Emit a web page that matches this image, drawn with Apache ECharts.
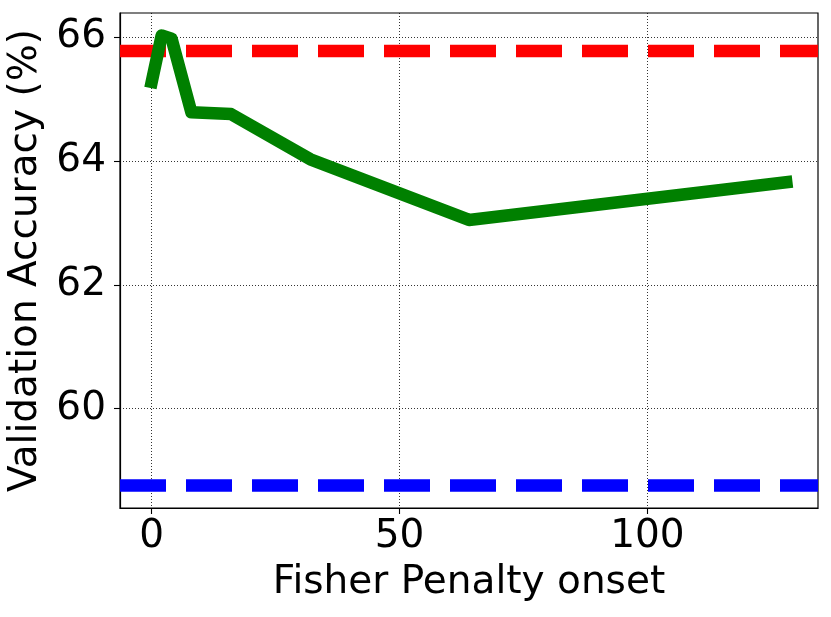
<!DOCTYPE html>
<html>
<head>
<meta charset="utf-8">
<script src="https://cdn.jsdelivr.net/npm/echarts@6/dist/echarts.min.js"></script>
<style>html,body{margin:0;padding:0;background:#fff;}#c{width:831px;height:617px;}</style>
</head>
<body>
<div id="c"></div>
<script>
// Data
const onsetValues = [0, 2, 4, 8, 16, 32, 64, 128];
const accuracyValues = [65.28, 66.03, 65.98, 64.79, 64.76, 64.03, 63.05, 63.66];
const redBaseline = 65.78;
const blueBaseline = 58.76;
const xTicks = [0, 50, 100];
const yTicks = [60, 62, 64, 66];

// axis extents with 5% margins (matplotlib style)
const xMinD = Math.min(...onsetValues), xMaxD = Math.max(...onsetValues);
const xPad = (xMaxD - xMinD) * 0.05;
const xMin = xMinD - xPad, xMax = xMaxD + xPad;
const yAll = accuracyValues.concat([redBaseline, blueBaseline]);
const yMinD = Math.min(...yAll), yMaxD = Math.max(...yAll);
const yPad = (yMaxD - yMinD) * 0.05;
const yMin = yMinD - yPad, yMax = yMaxD + yPad;

const FONT = 'DejaVu Sans';
const chart = echarts.init(document.getElementById('c'), null, {renderer: 'canvas'});
chart.setOption({
  animation: false,
  backgroundColor: '#fff',
  grid: {left: 120, top: 13, right: 13, bottom: 109, containLabel: false, outerBoundsMode: 'none',
         show: true, borderColor: '#000', borderWidth: 1.2, backgroundColor: 'transparent'},
  xAxis: {
    type: 'value', min: xMin, max: xMax,
    name: 'Fisher Penalty onset', nameLocation: 'middle', nameGap: 55,
    nameTextStyle: {fontFamily: FONT, fontSize: 39, color: '#000'},
    axisLine: {show: true, onZero: false, lineStyle: {color: '#000', width: 1.2}},
    axisTick: {show: true, length: 6, inside: false, customValues: xTicks, lineStyle: {color: '#000', width: 1.1}},
    axisLabel: {show: true, margin: 9, customValues: xTicks, fontFamily: FONT, fontSize: 39, color: '#000', formatter: v => String(v)},
    splitLine: {show: true, lineStyle: {color: '#000', width: 0.8, type: [1, 2]}}
  },
  yAxis: {
    type: 'value', min: yMin, max: yMax,
    name: 'Validation Accuracy (%)', nameLocation: 'middle', nameGap: 73,
    nameTextStyle: {fontFamily: FONT, fontSize: 39, color: '#000'},
    axisLine: {show: true, onZero: false, lineStyle: {color: '#000', width: 1.2}},
    axisTick: {show: true, length: 6, inside: false, customValues: yTicks, lineStyle: {color: '#000', width: 1.1}},
    axisLabel: {show: true, margin: 14, customValues: yTicks, fontFamily: FONT, fontSize: 39, color: '#000', formatter: v => String(v)},
    splitLine: {show: true, lineStyle: {color: '#000', width: 0.8, type: [1, 2]}}
  },
  series: [
    {
      type: 'line', z: 2, symbol: 'none', silent: true,
      data: [[xMin, redBaseline], [xMax, redBaseline]],
      lineStyle: {color: '#ff0000', width: 12.5, type: [46, 20], cap: 'butt'}
    },
    {
      type: 'line', z: 2, symbol: 'none', silent: true,
      data: [[xMin, blueBaseline], [xMax, blueBaseline]],
      lineStyle: {color: '#0000ff', width: 12.5, type: [46, 20], cap: 'butt'}
    },
    {
      type: 'line', z: 3, symbol: 'none', silent: true,
      data: onsetValues.map((x, i) => [x, accuracyValues[i]]),
      lineStyle: {color: '#008000', width: 12.5, cap: 'square', join: 'round'}
    }
  ]
});
</script>
</body>
</html>
